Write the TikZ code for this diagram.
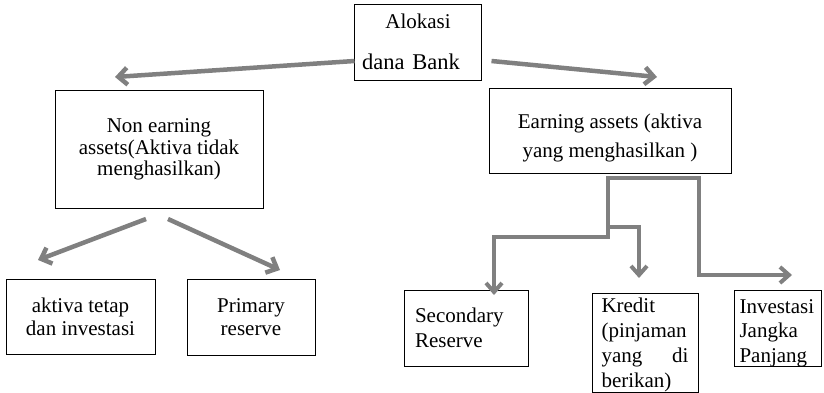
\documentclass[tikz,border=0pt]{standalone}
\usepackage{fontspec}
\setmainfont{Liberation Serif}
\usetikzlibrary{arrows.meta, positioning, calc}
\definecolor{arrowgray}{HTML}{808080}
\tikzset{
  box/.style={draw, line width=1pt, inner sep=0pt, outer sep=0pt},
  txt/.style={font=\fontsize{21}{#1}\selectfont, inner sep=0pt},
  fat/.style={draw=arrowgray, line width=4.5pt, -{Straight Barb[length=9pt,width=17pt]}},
  elbow/.style={draw=arrowgray, line width=4pt, line cap=rect, -{Straight Barb[length=9pt,width=16pt]}}
}

\begin{document}
\begin{tikzpicture}[x=1pt,y=-1pt]
  \useasboundingbox (0,0) rectangle (824,393);

  % top and second level
  \node[box, minimum width=127pt, minimum height=76pt] (alok) at (418,43) {};
  \node[txt=41, align=center] (alokT) at ([yshift=1pt]alok.center) {Alokasi\\\hspace*{-14pt}{\fontsize{22.5}{41}\selectfont dana\hspace{8pt}Bank}};
  \node[box, txt=21.5, align=center, minimum width=208pt, minimum height=117pt] (nonearn) at (159,149.5) {Non earning\\assets(Aktiva tidak\\menghasilkan)};
  \node[box, minimum width=242pt, minimum height=84pt] (earn) at (610,131) {};
  \node[txt=29, align=center] (earnT) at ([yshift=-7pt]earn.center) {Earning assets (aktiva\\yang menghasilkan )};

  % bottom row
  \node[box, txt=23, align=center, minimum width=149pt, minimum height=75pt] (tetap) at (80.5,316.5) {aktiva tetap\\dan investasi};
  \node[box, txt=23, align=center, minimum width=128pt, minimum height=76pt] (primary) at (251,317) {Primary\\reserve};
  \node[box, txt=25, align=left, text width=102pt, minimum width=124pt, minimum height=76pt] (secondary) at (466,328) {Secondary\\Reserve};
  \node[box, minimum width=106pt, minimum height=99pt] (kredit) at (645,342.5) {};
  \node[txt=25, align=left, text width=87pt] (kreditT) at ([yshift=-2pt]kredit.center) {Kredit\\(pinjaman\\yang\hspace{0pt plus 1filll}di\\berikan)};
  \node[box, minimum width=87pt, minimum height=76pt] (invest) at (777.5,328) {};
  \node[txt=24.5, align=left, text width=76pt] (investT) at ([yshift=-5pt]invest.center) {Investasi\\Jangka\\Panjang};

  % free arrow ends
  \coordinate (tipA) at (115,77);
  \coordinate (tipB) at (657,77);
  \coordinate (tipC) at (38,260);
  \coordinate (tipD) at (280,270);
  \coordinate (tipE) at (494,295);
  \coordinate (tipF) at (639,278);
  \coordinate (tipG) at (792,275);
  \coordinate (split) at ([xshift=-2pt,yshift=-5pt]earn.south);

  \draw[fat] ([yshift=-18pt]alok.west) -- (tipA);
  \draw[fat] ([xshift=10pt,yshift=-18pt]alok.east) -- (tipB);
  \draw[fat] ([xshift=-13pt,yshift=-11pt]nonearn.south) -- (tipC);
  \draw[fat] ([xshift=9pt,yshift=-11pt]nonearn.south) -- (tipD);

  % earning assets branches
  \draw[elbow] (split) -- ++(0,59) -| (tipE);
  \draw[elbow] ([yshift=-49pt]split) -| (tipF);
  \draw[elbow] (split) -- ++(91,0) |- (tipG);
\end{tikzpicture}
\end{document}
